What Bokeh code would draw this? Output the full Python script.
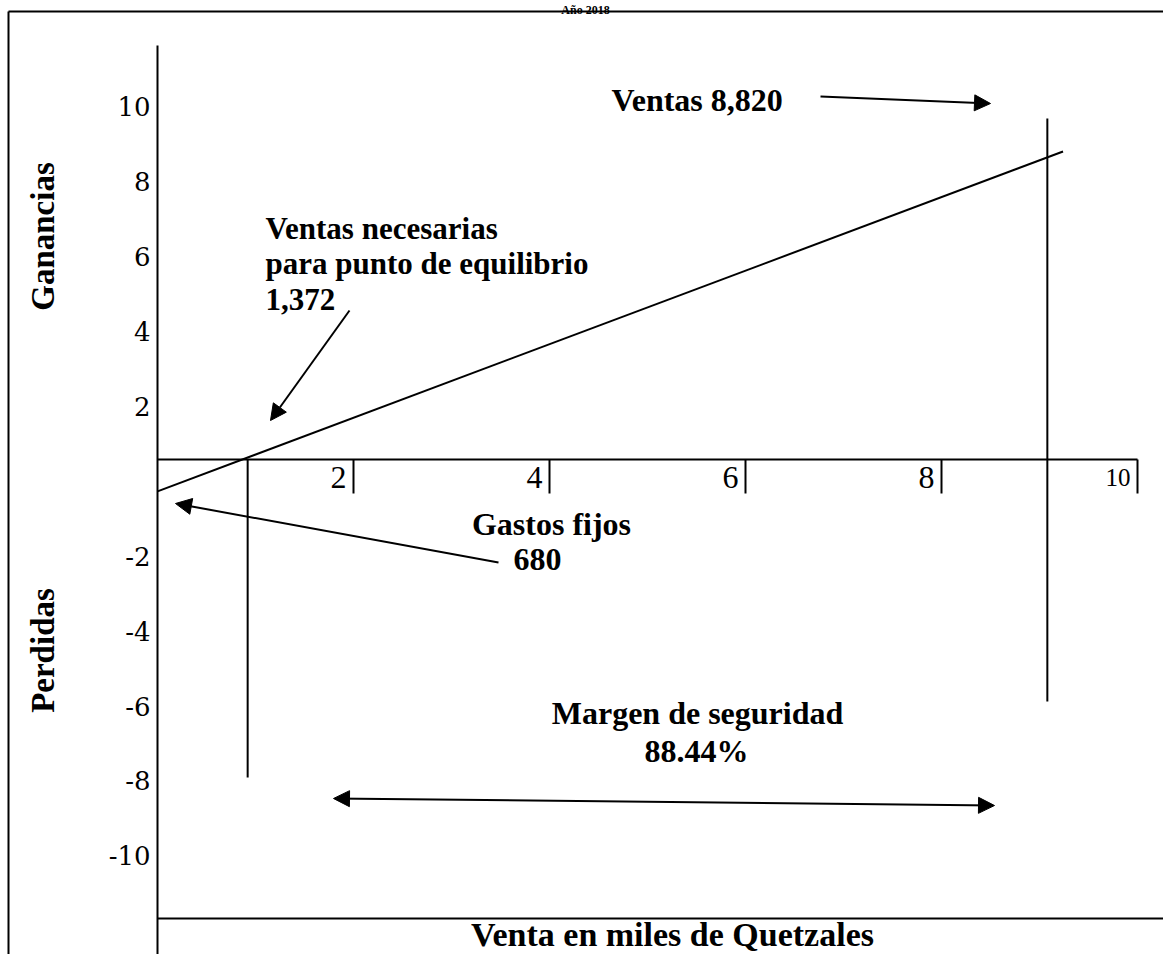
from bokeh.plotting import figure
from bokeh.models import Range1d, Arrow, NormalHead, ColumnDataSource
from bokeh.core.properties import value
from bokeh.embed import file_html
from bokeh.resources import INLINE
import math

# ---------------- data ----------------
TITLE = "Año 2018"
X_TICKS = [2, 4, 6, 8, 10]
Y_TICKS = [10, 8, 6, 4, 2, -2, -4, -6, -8, -10]
PROFIT_X = [0.0, 9.24]          # miles de Quetzales
PROFIT_Y = [-0.85, 8.22]        # ganancia / pérdida
BREAK_EVEN_SALES = 1372
SALES = 8820
FIXED_COSTS = 680
SAFETY_MARGIN = 88.44
BE_LINE_X = 0.92                # where the break-even marker is drawn
SALES_LINE_X = 9.08             # where the sales marker is drawn
X_LABEL = "Venta en miles de Quetzales"
Y_LABEL_POS = "Ganancias"
Y_LABEL_NEG = "Perdidas"

# ---------------- layout ----------------
W, H = 1163, 954
PX_X, X0 = 98.0, 157.0      # px per unit, px position of 0
PX_Y, Y0 = 37.47, 459.0     # px per unit, px position of 0


def dx(px):
    return (px - X0) / PX_X


def dy(py):
    return (Y0 - py) / PX_Y


p = figure(width=W, height=H, output_backend="svg", toolbar_location=None,
           x_range=Range1d(dx(0), dx(W)), y_range=Range1d(dy(H), dy(0)),
           x_axis_location=None, y_axis_location=None, min_border=0,
           outline_line_color=None, background_fill_color="white",
           border_fill_color="white")
p.grid.visible = False

SERIF = value("Liberation Serif")
LW = 2

# outer border (top and left)
p.segment(x0=[dx(8), dx(8)], y0=[dy(11), dy(11)], x1=[dx(W), dx(8)],
          y1=[dy(11), dy(H)], line_color="black", line_width=LW)

# title, above the border
p.text(x=[dx(585)], y=[dy(9)], text=[TITLE], text_align="center",
       text_baseline="alphabetic", text_font=SERIF, text_font_style="bold",
       text_font_size="12px", text_color="black")

# vertical axis line, bottom line, zero line
p.segment(x0=[0], y0=[dy(45)], x1=[0], y1=[dy(H)], line_color="black", line_width=LW)
p.segment(x0=[0], y0=[dy(918)], x1=[dx(W)], y1=[dy(918)], line_color="black", line_width=LW)
p.segment(x0=[0], y0=[0], x1=[max(X_TICKS)], y1=[0], line_color="black", line_width=LW)

# x tick marks and labels
p.segment(x0=X_TICKS, y0=[0] * len(X_TICKS), x1=X_TICKS, y1=[dy(493)] * len(X_TICKS),
          line_color="black", line_width=LW)
xsrc = ColumnDataSource(dict(x=X_TICKS, y=[dy(477)] * len(X_TICKS),
                             t=[str(v) for v in X_TICKS],
                             fs=["32px" if v < 10 else "25px" for v in X_TICKS]))
p.text(x="x", y="y", text="t", source=xsrc, x_offset=-7, text_align="right",
       text_baseline="middle", text_font=SERIF, text_font_size="fs", text_color="black")

# y tick labels (the scan places them slightly below their nominal value)
Y_SHIFT = -0.58
p.text(x=[dx(150)] * len(Y_TICKS), y=[v + Y_SHIFT for v in Y_TICKS],
       text=[str(v) for v in Y_TICKS], text_align="right", text_baseline="middle",
       text_font=value("DejaVu Serif"), text_font_size="26px", text_color="black")

# y labels
p.text(x=[dx(42), dx(42)], y=[dy(236), dy(650)], text=[Y_LABEL_POS, Y_LABEL_NEG],
       angle=math.pi / 2, text_align="center", text_baseline="middle",
       text_font=SERIF, text_font_style="bold", text_font_size="33px", text_color="black")

# x label
p.text(x=[dx(672)], y=[dy(934)], text=[X_LABEL], text_align="center",
       text_baseline="middle", text_font=SERIF, text_font_style="bold",
       text_font_size="34px", text_color="black")

# profit line
p.line(PROFIT_X, PROFIT_Y, line_color="black", line_width=LW)

# markers for break-even and sales
p.segment(x0=[BE_LINE_X, SALES_LINE_X], y0=[0, dy(118)],
          x1=[BE_LINE_X, SALES_LINE_X], y1=[dy(777), dy(701)],
          line_color="black", line_width=LW)


# annotation texts
def label(txt, px, py, align="left", size="31px"):
    p.text(x=[dx(px)], y=[dy(py)], text=[txt], text_align=align,
           text_baseline="alphabetic", text_font=SERIF, text_font_style="bold",
           text_font_size=size, text_color="black")


label(f"Ventas {SALES:,}", 611, 99, size="32px")
label("Ventas necesarias", 265, 228)
label("para punto de equilibrio", 265, 263)
label(f"{BREAK_EVEN_SALES:,}", 265, 299)
label("Gastos fijos", 551, 523, "center", "32px")
label(f"{FIXED_COSTS}", 537, 559, "center", "32px")
label("Margen de seguridad", 697, 712, "center", "32px")
label(f"{SAFETY_MARGIN:.2f}%", 696, 750, "center", "32px")


# arrows
def arrow(x0, y0, x1, y1, both=False):
    head = NormalHead(size=16, fill_color="black", line_color="black")
    kw = dict(end=head, x_start=dx(x0), y_start=dy(y0), x_end=dx(x1), y_end=dy(y1),
              line_color="black", line_width=LW)
    if both:
        kw["start"] = NormalHead(size=16, fill_color="black", line_color="black")
    p.add_layout(Arrow(**kw))


arrow(820, 96, 990, 103)
arrow(349, 310, 270, 420)
arrow(498, 562, 175, 503)
arrow(333, 798, 994, 805, both=True)

open("out.html", "w").write(file_html(p, INLINE))
